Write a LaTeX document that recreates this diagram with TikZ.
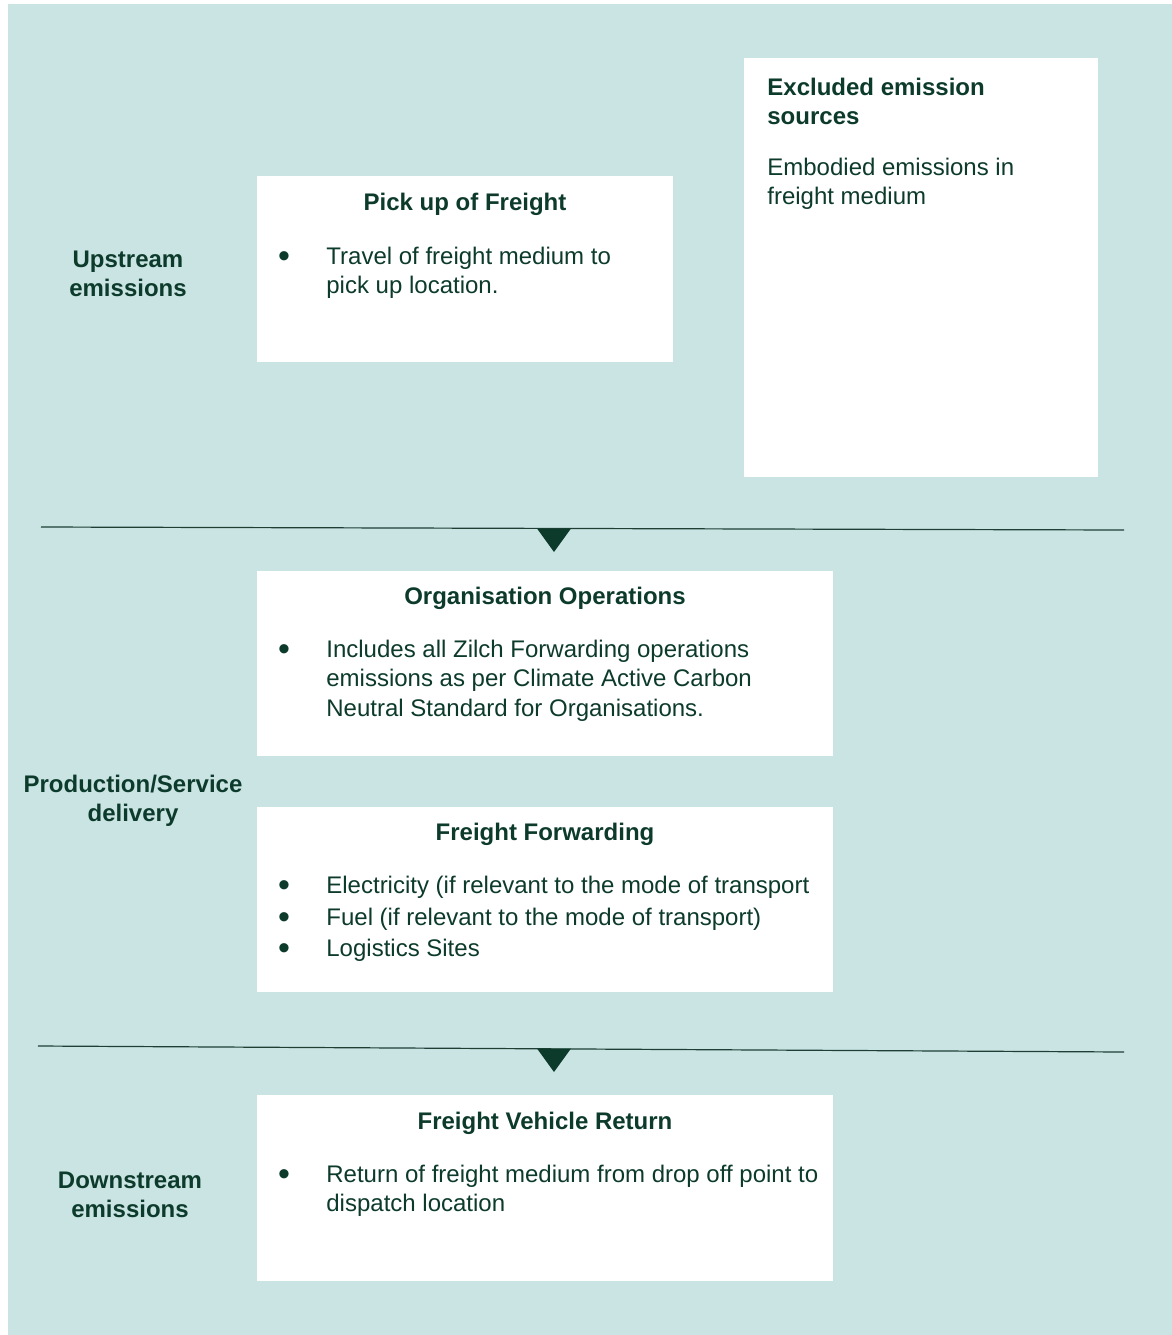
\documentclass[tikz,border=0pt]{standalone}
\usepackage{fontspec}
\setmainfont{Liberation Sans}
\usepackage{tikz}
\usetikzlibrary{positioning}

\definecolor{bgteal}{HTML}{CAE4E4}
\definecolor{txtgreen}{HTML}{0D3B2B}
\definecolor{rulegreen}{HTML}{1F3F35}

\begin{document}
\begin{tikzpicture}[x=0.5pt,y=-0.5pt,text=txtgreen,
    font=\fontsize{12}{14.8}\selectfont,
    box/.style={fill=white,anchor=north west,inner sep=0pt},
    stage/.style={font=\bfseries\fontsize{12}{14.8}\selectfont,align=center,anchor=base,inner sep=0pt},
    head/.style={font=\bfseries\fontsize{12}{14.8}\selectfont,anchor=base,inner sep=0pt},
    item/.style={align=left,anchor=base west,inner sep=0pt},
    bul/.style={font=\fontsize{17}{17}\selectfont,anchor=center,inner sep=0pt,yshift=-2pt},
    divider/.style={draw=rulegreen,line width=0.6pt},
    marker/.style={fill=txtgreen}]

\useasboundingbox (0,0) rectangle (1172,1335);
\fill[bgteal] (8,4) rectangle (1172,1335);

% boxes
\node[box, minimum width=208pt, minimum height=93pt]  (pick) at (257,176)  {};
\node[box, minimum width=177pt, minimum height=209.5pt] (excl) at (744,58) {};
\node[box, minimum width=288pt, minimum height=92.5pt] (ops)  at (257,571)  {};
\node[box, minimum width=288pt, minimum height=92.5pt] (fwd)  at (257,807)  {};
\node[box, minimum width=288pt, minimum height=93pt]   (ret)  at (257,1095) {};

% stage labels (multi-line nodes sit on their last baseline)
\node[stage] (up)   at (128,296.6)  {Upstream\\emissions};
\node[stage] (prod) at (133,821.6)  {Production/Service\\delivery};
\node[stage] (down) at (130,1217.6) {Downstream\\emissions};

% pick up of freight
\node[head] (pickT) at (465,210) {Pick up of Freight};
\node[bul]  (pickB1) at (284,256) {\textbullet};
\node[item] (pickI1) at (326,293.6) {Travel of freight medium to\\pick up location.};

% excluded sources
\node[head, align=left, anchor=base west] (exclT) at (767,124.6) {Excluded emission\\sources};
\node[item] (exclI) at (767,204.6) {Embodied emissions in\\freight medium};

% organisation operations
\node[head] (opsT) at (545,604) {Organisation Operations};
\node[bul]  (opsB1) at (284,649) {\textbullet};
\node[item] (opsI1) at (326,716.2) {Includes all Zilch Forwarding operations\\emissions as per Climate Active Carbon\\Neutral Standard for Organisations.};

% freight forwarding
\node[head] (fwdT) at (545,840) {Freight Forwarding};
\node[bul]  (fwdB1) at (284,885) {\textbullet};
\node[item] (fwdI1) at (326,893) {Electricity (if relevant to the mode of transport};
\node[bul]  (fwdB2) at (284,917) {\textbullet};
\node[item] (fwdI2) at (326,925) {Fuel (if relevant to the mode of transport)};
\node[bul]  (fwdB3) at (284,948) {\textbullet};
\node[item] (fwdI3) at (326,956) {Logistics Sites};

% freight vehicle return
\node[head] (retT) at (545,1129) {Freight Vehicle Return};
\node[bul]  (retB1) at (284,1174) {\textbullet};
\node[item] (retI1) at (326,1211.6) {Return of freight medium from drop off point to\\dispatch location};

% dividers
\coordinate (divAw) at (41,527);
\coordinate (divAe) at (1124,530);
\coordinate (divBw) at (38,1046);
\coordinate (divBe) at (1124,1052);
\draw[divider] (divAw) -- (divAe);
\draw[divider] (divBw) -- (divBe);
\fill[marker] (537,528.5) -- (571,528.5) -- (554,552) -- cycle;
\fill[marker] (537,1048.5) -- (571,1048.5) -- (554,1072) -- cycle;

\end{tikzpicture}
\end{document}
